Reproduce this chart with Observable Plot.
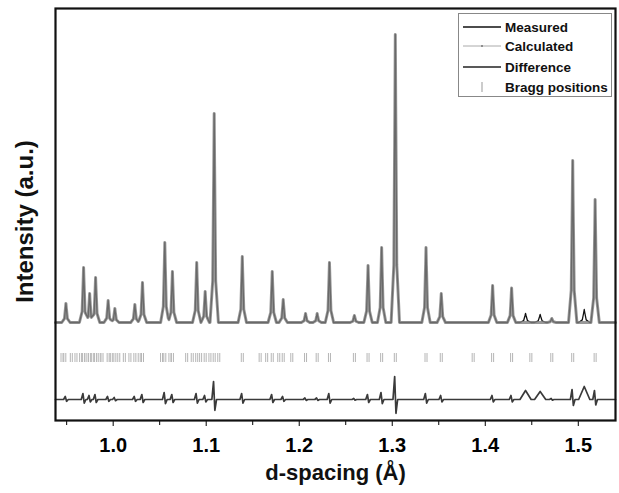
<!DOCTYPE html>
<html><head><meta charset="utf-8">
<script src="https://cdn.jsdelivr.net/npm/d3@7"></script>
<script src="https://cdn.jsdelivr.net/npm/@observablehq/plot@0.6"></script>
<style>
body{margin:0;background:#fff;font-family:"Liberation Sans",Arial,sans-serif;}
#wrap{position:relative;width:619px;height:493px;}
#legend{position:absolute;left:458px;top:13px;width:154px;height:84px;border:1px solid #888;background:#fff;box-sizing:border-box;}
.row{position:absolute;left:4px;height:20px;display:flex;align-items:center;font-weight:bold;font-size:13.5px;color:#111;}
.row svg{margin-right:4px}
</style></head><body>
<div id="wrap"><div id="chart"></div>
<div id="legend">
<div class="row" style="top:3px"><svg width="38" height="10"><line x1="0" x2="38" y1="5" y2="5" stroke="#111" stroke-width="1.6"/></svg>Measured</div>
<div class="row" style="top:22px"><svg width="38" height="10"><line x1="0" x2="38" y1="5" y2="5" stroke="#aaa" stroke-width="1"/><circle cx="19" cy="5" r="1" fill="#777"/></svg>Calculated</div>
<div class="row" style="top:43px"><svg width="38" height="10"><line x1="0" x2="38" y1="5" y2="5" stroke="#222" stroke-width="1.6"/></svg>Difference</div>
<div class="row" style="top:63px"><svg width="38" height="12"><line x1="19" x2="19" y1="1" y2="11" stroke="#bbb" stroke-width="1.5"/></svg>Bragg positions</div>
</div></div>
<script>
// Calculated / measured reflections (d-spacing, Å) and peak intensities (a.u. above background)
const peakD = [0.9492,0.9682,0.9747,0.9811,0.9946,1.0018,1.0233,1.0315,1.0555,1.0637,1.0898,1.0989,1.1086,1.1388,1.1710,1.1828,1.2068,1.2193,1.2325,1.2593,1.2740,1.2886,1.3033,1.3363,1.3527,1.4079,1.4283,1.4715,1.4940,1.5181];
const peakH = [190,550,290,450,220,140,180,400,800,510,600,310,2090,660,510,230,90,90,600,70,570,750,2880,750,290,370,345,40,1620,1230];
// Extra measured-only features (impurity)
const extraD = [1.4433,1.4590,1.5064];
const extraH = [90,80,130];
// Difference curve wiggle amplitude at each reflection (a.u.)
const diffAmp = [30,60,40,50,30,20,30,50,70,50,60,40,180,60,50,30,15,15,60,10,50,70,230,60,40,40,40,10,100,90];
const diffOffset = -770;
// Bragg positions (d-spacing, Å)
const braggD = [0.9450,0.9480,0.9550,0.9600,0.9650,0.9682,0.9720,0.9747,0.9780,0.9811,0.9850,0.9880,0.9946,0.9980,1.0018,1.0060,1.0120,1.0180,1.0233,1.0280,1.0315,1.0520,1.0555,1.0610,1.0637,1.0790,1.0850,1.0898,1.0940,1.0989,1.1040,1.1086,1.1135,1.1388,1.1580,1.1650,1.1710,1.1780,1.1828,1.1920,1.2068,1.2193,1.2325,1.2593,1.2740,1.2886,1.3033,1.3363,1.3527,1.3870,1.4079,1.4283,1.4490,1.4715,1.4940,1.5181];
const xTicks = [1.0,1.1,1.2,1.3,1.4,1.5];
const xMinor = [0.95,1.05,1.15,1.25,1.35,1.45];

const x0 = 0.938, x1 = 1.540;
// piecewise-linear peak shape, summed where peaks overlap
function peakShape(d, h, w) {
  return [[d - w, 0], [d - w * 0.35, 0.2 * h], [d - w * 0.1, 0.75 * h], [d, h], [d + w * 0.1, 0.75 * h], [d + w * 0.35, 0.2 * h], [d + w, 0]];
}
function evalShape(s, x) {
  if (x <= s[0][0] || x >= s[s.length - 1][0]) return 0;
  for (let i = 1; i < s.length; i++) if (x <= s[i][0]) {
    const [xa, ya] = s[i - 1], [xb, yb] = s[i];
    return ya + (yb - ya) * (x - xa) / (xb - xa);
  }
  return 0;
}
function profile(list, base) {
  const shapes = list.map(p => peakShape(p.d, p.h, p.w));
  const xs = [x0, x1, ...shapes.flat().map(p => p[0])].sort((a, b) => a - b);
  return xs.map(x => ({d: x, y: base + d3.sum(shapes, s => evalShape(s, x))}));
}
const mainList = peakD.map((d, i) => ({d, h: peakH[i], w: 0.0045}));
const extraList = extraD.map((d, i) => ({d, h: extraH[i], w: 0.006}));
const calc = profile(mainList, 0);
const meas = profile(mainList.concat(extraList), 0);
const diffPts = [{d: x0, y: diffOffset}];
peakD.map((d, i) => ({d, a: diffAmp[i], t: 0})).concat(extraD.map((d, i) => ({d, a: extraH[i], t: 1})))
  .sort((a, b) => a.d - b.d).forEach(({d, a, t}) => {
    if (t) diffPts.push({d: d - 0.006, y: diffOffset}, {d, y: diffOffset + a}, {d: d + 0.006, y: diffOffset});
    else diffPts.push({d: d - 0.0025, y: diffOffset}, {d: d - 0.0007, y: diffOffset + a}, {d: d + 0.0007, y: diffOffset - 0.6 * a}, {d: d + 0.0025, y: diffOffset});
  });
diffPts.push({d: x1, y: diffOffset});

const chart = Plot.plot({
  width: 619, height: 493,
  marginLeft: 55, marginRight: 4, marginTop: 8, marginBottom: 73,
  style: {fontFamily: "Liberation Sans, Arial, sans-serif", background: "#fff"},
  x: {domain: [x0, x1]},
  y: {domain: [-980, 3140], axis: null},
  marks: [
    Plot.ruleX(braggD, {x: d => d, y1: -310, y2: -400, stroke: "#b5b5b5", strokeWidth: 3}),
    Plot.ruleX(braggD, {x: d => d, y1: -310, y2: -400, stroke: "#fff", strokeWidth: 1}),
    Plot.line(diffPts, {x: "d", y: "y", stroke: "#3a3a3a", strokeWidth: 1.7}),
    Plot.line(meas, {x: "d", y: "y", stroke: "#111", strokeWidth: 1.3}),
    Plot.line(calc, {x: "d", y: "y", stroke: "#7f7f7f", strokeWidth: 3, strokeOpacity: 0.8}),
    Plot.axisX({ticks: xTicks, tickFormat: d3.format(".1f"), tickSize: 6, tickPadding: 11, tickWidth: 2, fontSize: 20, fontWeight: "bold", label: null}),
    Plot.axisX({ticks: xMinor, tickFormat: () => "", tickSize: 5, tickWidth: 2, label: null}),
    Plot.frame({stroke: "#111", strokeWidth: 2.2}),
    Plot.text(["d-spacing (Å)"], {frameAnchor: "bottom", dy: 59, fontSize: 22, fontWeight: "bold", fill: "#111"}),
    Plot.text(["Intensity (a.u.)"], {frameAnchor: "left", dx: -30, dy: 7, rotate: -90, textAnchor: "middle", fontSize: 24, fontWeight: "bold", fill: "#111"})
  ]
});
document.getElementById("chart").appendChild(chart);
</script></body></html>
